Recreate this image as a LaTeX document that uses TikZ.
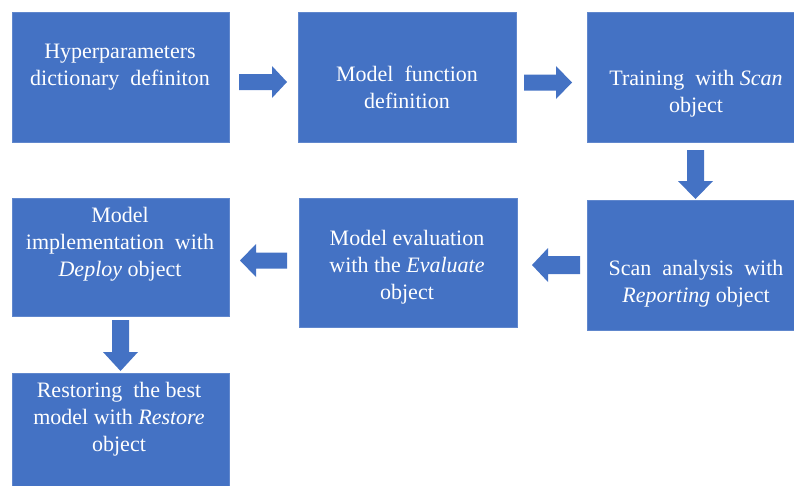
\documentclass[tikz,border=0pt]{standalone}
\usepackage{fontspec}
\setmainfont{Liberation Serif}
\definecolor{myblue}{HTML}{4472C4}
\newcommand\arrH[6]{% tailx headx tipx cy shafthalf headhalf
  \fill[myblue] (#1,#4-#5) -- (#2,#4-#5) -- (#2,#4-#6) -- (#3,#4) -- (#2,#4+#6) -- (#2,#4+#5) -- (#1,#4+#5) -- cycle;}
\newcommand\arrV[6]{% taily heady tipy cx shafthalf headhalf
  \fill[myblue] (#4-#5,#1) -- (#4-#5,#2) -- (#4-#6,#2) -- (#4,#3) -- (#4+#6,#2) -- (#4+#5,#2) -- (#4+#5,#1) -- cycle;}
\begin{document}
\begin{tikzpicture}[x=1pt,y=-1pt,
  box/.style={rectangle, fill=myblue, draw=myblue!85!white, line width=0.6pt, inner sep=0pt},
  txt/.style={text=white, align=center, inner sep=0pt, font=\fontsize{22}{27}\selectfont}]
\useasboundingbox (0,0) rectangle (794,485);
% boxes
\node[box, minimum width=217pt, minimum height=130pt] (b1) at (120.5,77) {};
\node[box, minimum width=218pt, minimum height=130pt] (b2) at (407,77) {};
\node[box, minimum width=210pt, minimum height=130pt] (b3) at (692,77) {};
\node[box, minimum width=210pt, minimum height=130pt] (b4) at (692,265) {};
\node[box, minimum width=218pt, minimum height=129pt] (b5) at (408,262.5) {};
\node[box, minimum width=217pt, minimum height=118pt] (b6) at (120.5,257) {};
\node[box, minimum width=217pt, minimum height=116pt] (b7) at (120.5,431) {};
% texts
\node[txt] (t1) at (120,67.5) {Hyperparameters\\dictionary\ \ definiton};
\node[txt] (t2) at (407,87) {Model\ \ function\\definition};
\node[txt] (t3) at (696,93.5) {Training\ \ with \textit{Scan}\\object};
\node[txt] (t4) at (696,284) {Scan\ \ analysis\ \ with\\\textit{Reporting} object};
\node[txt] (t5) at (407,267) {Model evaluation\\with the \textit{Evaluate}\\object};
\node[txt] (t6) at (120,244) {Model\\implementation\ \ with\\\textit{Deploy} object};
\node[txt] (t7) at (119,419) {Restoring\ \ the best\\model with \textit{Restore}\\object};
% block arrows
\arrH{239}{272}{287}{82}{8}{16}
\arrH{524}{556}{572}{82.5}{8}{16.5}
\arrV{150}{181}{199}{695.5}{8.5}{17.5}
\arrH{580}{548}{532}{265}{9}{17}
\arrH{287}{256}{240}{260.5}{8}{16.5}
\arrV{320}{352}{371}{120.5}{8.5}{17.5}
\end{tikzpicture}
\end{document}
